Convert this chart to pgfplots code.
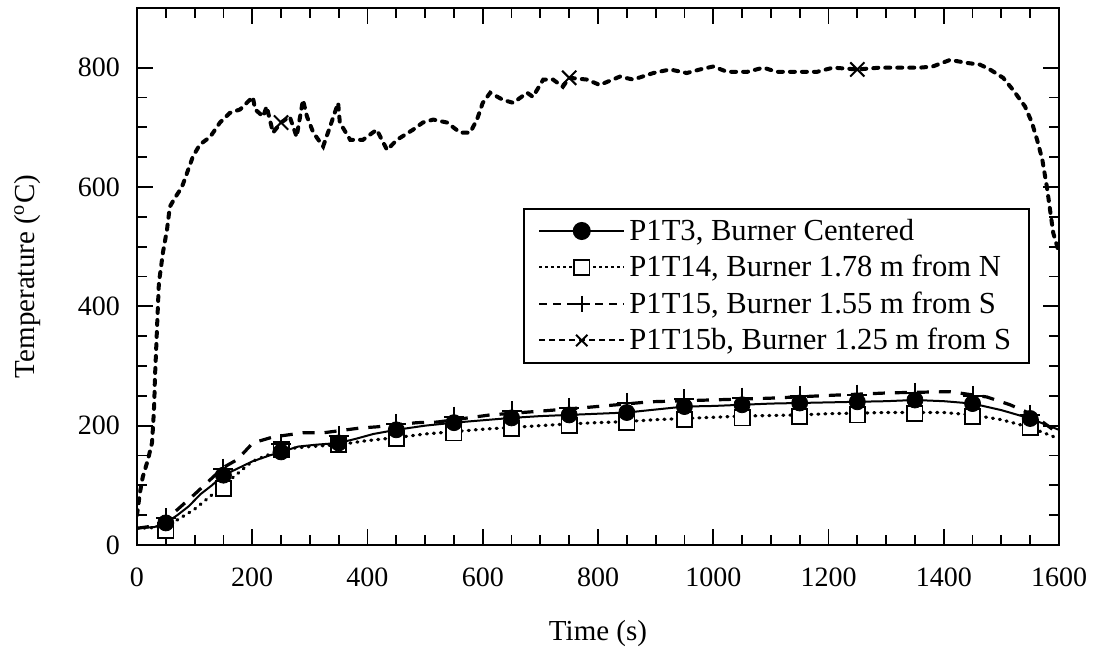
\documentclass[border=0pt]{standalone}
\usepackage{pgfplots}
\pgfplotsset{compat=1.18}
\usepackage{fontspec}
\setmainfont{Liberation Serif}

\begin{document}
\begin{tikzpicture}
\begin{axis}[
    scale only axis,
    width=461pt, height=268.5pt,
    xmin=0, xmax=1600,
    ymin=0, ymax=900,
    xtick={0,200,...,1600},
    ytick={0,200,...,800},
    minor x tick num=3,
    minor y tick num=3,
    major tick length=8pt,
    minor tick length=5pt,
    tick align=inside,
    axis line style={line width=1.2pt},
    every tick/.style={black, line width=0.9pt},
    /pgf/number format/assume math mode=true,
    /pgf/number format/set thousands separator={},
    tick label style={font=\fontsize{14}{17}\selectfont},
    xticklabel style={yshift=-8pt},
    yticklabel style={xshift=-5pt},
    label style={font=\fontsize{14.5}{17}\selectfont},
    xlabel={Time (s)},
    ylabel={Temperature (\textsuperscript{o}C)},
    xlabel style={at={(axis description cs:0.5,-0.164)}, anchor=center},
    ylabel style={at={(axis description cs:-0.119,0.5)}, anchor=center},
    legend style={
        at={(axis cs:670,565)}, anchor=north west,
        draw=black, line width=1pt, fill=white,
        font=\fontsize{15.3}{18}\selectfont,
        legend cell align=left,
        row sep=2pt,
        inner xsep=7pt,
        inner ysep=3pt,
    },
    legend image code/.code={
        \draw[mark repeat=2,mark phase=2,#1]
            plot coordinates {(0cm,0cm) (0.75cm,0cm) (1.5cm,0cm)};
    },
]

% P1T15b, Burner 1.25 m from S
\addplot[forget plot, black, line width=2pt, dash pattern=on 2.5pt off 3.5pt, line cap=round] coordinates {
(0,50) (5,87) (10,114) (19,143) (26,171) (28,201) (30,238) (31,277) (33,322)
(35,370) (38,439) (45,490) (52,528) (57,567) (66,582) (78,600) (87,624) (97,651)
(109,671) (127,684) (144,708) (161,724) (179,730) (201,751) (205,730) (219,718)
(225,735) (236,691) (250,708) (265,718) (277,684) (288,746) (295,718) (306,691)
(323,668) (335,701) (349,741) (352,708) (370,679) (392,679) (416,696) (434,662)
(451,679) (479,696) (496,708) (514,713) (538,708) (561,691) (578,691) (590,713)
(600,741) (613,758) (635,746) (653,741) (677,758) (687,751) (705,780) (722,780)
(739,768) (750,783) (781,780) (803,771) (838,785) (861,780) (896,791) (925,797)
(954,791) (977,797) (1000,802) (1024,793) (1059,793) (1087,800) (1110,793)
(1151,793) (1180,793) (1208,800) (1250,797) (1289,800) (1324,800) (1359,800)
(1381,802) (1411,813) (1440,808) (1463,805) (1480,797) (1503,783) (1520,763)
(1541,735) (1553,708) (1562,679) (1571,646) (1579,600) (1590,523) (1600,490)
};
\addplot[forget plot, only marks, black, mark=x, mark size=5pt, line width=1pt] coordinates {
(250,708) (750,783) (1250,797)
};

% P1T14, Burner 1.78 m from N
\addplot[forget plot, black, line width=1.6pt, dash pattern=on 0.5pt off 3pt, line cap=round] coordinates {
(0,28) (50,30) (100,60) (150,100) (200,140) (250,160) (300,165) (350,168) (400,175)
(450,180) (500,186) (550,190) (600,194) (650,197) (700,200) (750,203) (800,205)
(850,207) (900,210) (950,212) (1000,214) (1050,216) (1100,217) (1150,218) (1200,220)
(1250,221) (1300,222) (1350,222) (1400,222) (1450,218) (1500,210) (1550,197) (1600,178)
};
\addplot[forget plot, only marks, black, mark=square*, mark size=3.8pt, mark options={fill=white, line width=0.9pt}] coordinates {
(50,25) (150,95) (250,160) (350,168) (450,178) (550,188) (650,195) (750,201)
(850,205) (950,210) (1050,213) (1150,215) (1250,218) (1350,220) (1450,215) (1550,197)
};

% P1T15, Burner 1.55 m from S
\addplot[forget plot, black, line width=1.6pt, dash pattern=on 6pt off 5pt] coordinates {
(0,28) (30,32) (50,42) (100,85) (150,130) (174,143) (201,171) (236,181) (288,188)
(323,188) (387,196) (416,198) (486,205) (521,206) (613,218) (682,223) (722,226)
(786,231) (833,235) (890,240) (994,243) (1098,246) (1208,251) (1307,255) (1411,257)
(1475,248) (1515,235) (1555,218) (1590,193) (1600,185)
};
\addplot[forget plot, only marks, black, mark=+, mark size=5pt, line width=1pt] coordinates {
(50,45) (150,128) (250,170) (350,183) (450,203) (550,215) (650,224) (750,230)
(850,238) (950,244) (1050,247) (1150,250) (1250,252) (1350,255) (1450,250) (1550,218)
};

% P1T3, Burner Centered
\addplot[forget plot, black, line width=1pt] coordinates {
(0,28) (30,30) (50,37) (70,50) (90,65) (110,85) (130,100) (150,117) (170,126)
(200,140) (230,150) (250,156) (280,165) (310,168) (350,171) (380,178) (410,186)
(450,193) (500,200) (550,205) (600,209) (650,213) (700,216) (750,218) (800,220)
(850,222) (900,227) (950,232) (1000,233) (1050,235) (1100,237) (1150,238) (1200,239)
(1250,240) (1300,241) (1350,243) (1400,241) (1450,237) (1500,226) (1550,212) (1600,193)
};
\addplot[forget plot, only marks, black, mark=*, mark size=4pt] coordinates {
(50,37) (150,117) (250,156) (350,171) (450,193) (550,205) (650,213) (750,218)
(850,222) (950,232) (1050,235) (1150,238) (1250,240) (1350,243) (1450,237) (1550,212)
};

\addlegendimage{black, line width=1pt, mark=*, mark size=4pt}
\addlegendentry{P1T3, Burner Centered}
\addlegendimage{black, line width=1pt, dash pattern=on 1.5pt off 1.5pt, mark=square*, mark size=3.8pt, mark options={fill=white, solid, line width=0.8pt}}
\addlegendentry{P1T14, Burner 1.78 m from N}
\addlegendimage{black, line width=1pt, dash pattern=on 4pt off 3pt, mark=+, mark size=4pt, mark options={solid}}
\addlegendentry{P1T15, Burner 1.55 m from S}
\addlegendimage{black, line width=1pt, dash pattern=on 3pt off 2pt, mark=x, mark size=4pt, mark options={solid}}
\addlegendentry{P1T15b, Burner 1.25 m from S}

\end{axis}
\path (current axis.south west) ++(-68.5pt,-53.5pt) coordinate (bbsw);
\path (current axis.north east) ++(19.5pt,4pt) coordinate (bbne);
\path[use as bounding box] (bbsw) rectangle (bbne);
\end{tikzpicture}
\end{document}
